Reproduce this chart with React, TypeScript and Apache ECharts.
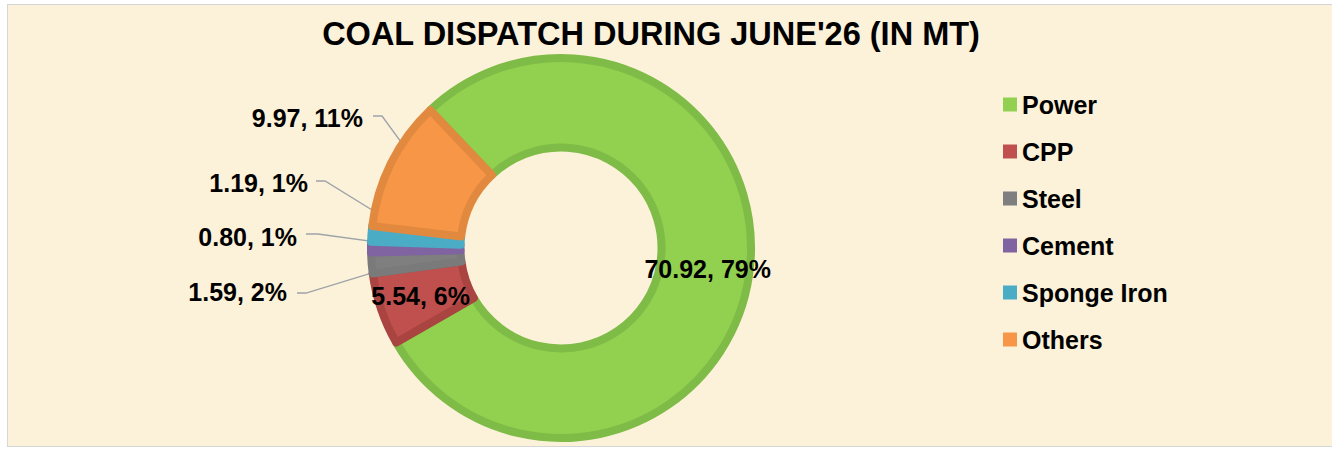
import React, { useEffect, useRef } from 'react';
import * as echarts from 'echarts';

const TITLE = "COAL DISPATCH DURING JUNE'26 (IN MT)";
const categories = ['Power', 'CPP', 'Steel', 'Cement', 'Sponge Iron', 'Others'];
const values = [70.92, 5.54, 1.59, 0.8, 1.19, 9.97];
const fillColors = ['#92D050', '#C0504D', '#7F7F7F', '#8064A2', '#4BACC6', '#F79646'];
const edgeColors = ['#7EBC47', '#A94441', '#7A7A7A', '#8064A2', '#4BACC6', '#E18A3F'];
const insideLabel = [true, true, false, false, false, false];

const FONT = "'Liberation Sans', Arial, Helvetica, sans-serif";
const CX = 561;
const CY = 248;
const R_IN = 100.5;
const R_OUT = 190;
const START = 133.5;

// label placement for outside labels (right edge, centre y, line start, knee, line y)
const outsideLayout: Record<number, { x: number; y: number; sx: number; kx: number; ly: number }> = {
  5: { x: 363, y: 118, sx: 373, kx: 382, ly: 116 },
  4: { x: 308, y: 183, sx: 316, kx: 325, ly: 181 },
  3: { x: 297, y: 237, sx: 306, kx: 318, ly: 234 },
  2: { x: 287, y: 292, sx: 297, kx: 306, ly: 293 },
};

export default function App() {
  const ref = useRef<HTMLDivElement>(null);

  useEffect(() => {
    if (!ref.current) return;
    const chart = echarts.init(ref.current, null, { renderer: 'svg' });
    const total = values.reduce((a, b) => a + b, 0);
    const cum: number[] = [];
    values.reduce((acc, v, i) => {
      cum[i] = acc;
      return acc + v;
    }, 0);

    const data = categories.map((name, i) => ({
      name,
      value: values[i],
      itemStyle: {
        color: fillColors[i],
        borderColor: edgeColors[i],
        borderWidth: 8,
        borderJoin: 'round',
      },
      label: { position: insideLabel[i] ? 'inside' : 'outside' },
      labelLine: { show: !insideLabel[i] },
    }));

    chart.setOption({
      animation: false,
      backgroundColor: 'transparent',
      title: {
        text: TITLE,
        left: 646,
        top: 12,
        textAlign: 'center',
        textStyle: { fontSize: 32.5, fontWeight: 'bold', fontFamily: FONT, color: '#000' },
      },
      legend: {
        orient: 'vertical',
        left: 998,
        top: 87,
        itemWidth: 14,
        itemHeight: 14,
        itemGap: 22,
        icon: 'rect',
        data: categories,
        itemStyle: { borderWidth: 0 },
        textStyle: { fontSize: 25, fontWeight: 'bold', fontFamily: FONT, color: '#000', lineHeight: 25 },
      },
      series: [
        {
          type: 'pie',
          center: [CX, CY],
          radius: [R_IN, R_OUT],
          startAngle: START,
          clockwise: true,
          avoidLabelOverlap: false,
          label: {
            show: true,
            fontSize: 25,
            fontWeight: 'bold',
            fontFamily: FONT,
            color: '#000',
            formatter: (p: any) => `${Number(p.value).toFixed(2)}, ${Math.round(p.percent)}%`,
          },
          labelLine: { lineStyle: { color: '#9EA3A8', width: 1.3 } },
          labelLayout: (params: any) => {
            const i = params.dataIndex;
            const lay = outsideLayout[i];
            if (!lay) return {};
            const mid = ((START - (360 * (cum[i] + values[i] / 2)) / total) * Math.PI) / 180;
            const rm = (R_IN + R_OUT) / 2;
            const ax = CX + rm * Math.cos(mid);
            const ay = CY - rm * Math.sin(mid);
            return {
              x: lay.x,
              y: lay.y,
              align: 'right',
              verticalAlign: 'middle',
              labelLinePoints: [
                [ax, ay],
                [lay.kx, lay.ly],
                [lay.sx, lay.ly],
              ],
            };
          },
          data,
        },
      ],
    });
    return () => chart.dispose();
  }, []);

  return (
    <div style={{ position: 'fixed', left: 0, top: 0, width: 1332, height: 449, background: '#fff', overflow: 'hidden' }}>
      <div
        style={{
          position: 'absolute',
          left: 7,
          top: 4,
          width: 1340,
          height: 443,
          background: '#FCF1D9',
          border: '1px solid #D6D6D6',
          boxSizing: 'border-box',
        }}
      />
      <div ref={ref} style={{ position: 'absolute', left: 0, top: 0, width: 1332, height: 449 }} />
    </div>
  );
}
